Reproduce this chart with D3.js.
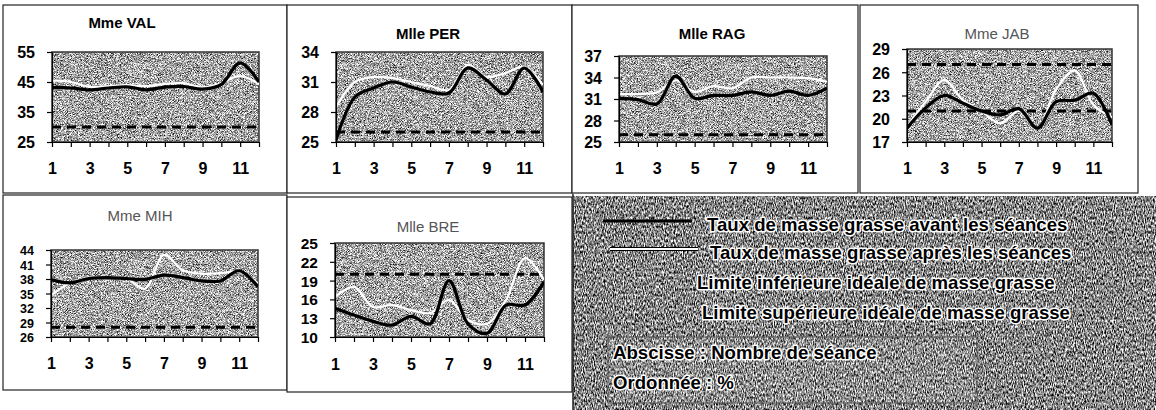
<!DOCTYPE html>
<html lang="fr">
<head>
    <meta charset="UTF-8">
    <title>Taux de masse grasse</title>
    <script src="https://d3js.org/d3.v7.min.js"></script>
    <style>
        body { margin: 0; background: #fff; }
        svg { display: block; font-family: Arial, "Liberation Sans", sans-serif; }
        .axis path, .axis line { stroke: #000; stroke-width: 1.2px; }
        .axis text { font-size: 16px; font-weight: 700; fill: #000; font-family: Arial, "Liberation Sans", sans-serif; }
        .legend-text { font-size: 18.6px; font-weight: 700; fill: #000; stroke: #fff; stroke-width: 3px; paint-order: stroke; stroke-linejoin: round; }
    </style>
</head>
<body>
    <svg id="chart" width="1156" height="410"></svg>

    <script>
        // Séances 1 à 12
        const seances = [1, 2, 3, 4, 5, 6, 7, 8, 9, 10, 11, 12];

        // avant / après les séances (%)
        const valAvant = [43.2, 43, 42.4, 43, 43.4, 42.4, 43.3, 43.5, 42.6, 44.2, 51.4, 45];
        const valApres = [45.5, 45, 43.4, 43.6, 44, 43.6, 44.4, 44.6, 43.2, 44.6, 47, 44.2];
        const perAvant = [25.2, 29.5, 30.4, 31.0, 30.5, 30.0, 29.9, 32.4, 31.2, 29.8, 32.4, 30.0];
        const perApres = [28.5, 31.0, 31.5, 31.4, 31.0, 30.6, 30.2, 32.7, 31.5, 31.9, 32.5, 30.7];
        const ragAvant = [31.1, 30.9, 30.3, 34.2, 31.1, 31.5, 31.5, 32.0, 31.5, 32.1, 31.5, 32.5];
        const ragApres = [31.7, 31.7, 31.9, 33.6, 32.0, 32.8, 32.5, 34.0, 34.0, 34.0, 33.9, 33.4];
        const jabAvant = [18.8, 21.4, 23.0, 22.0, 21.0, 20.5, 21.3, 18.8, 22.2, 22.4, 23.3, 19.2];
        const jabApres = [19.0, 22.2, 25.0, 22.4, 21.0, 19.4, 21.0, 18.8, 23.8, 26.2, 21.8, 20.2];
        const mihAvant = [37.9, 37.2, 38.1, 38.3, 38.1, 37.9, 38.8, 38.3, 37.6, 37.6, 39.7, 36.4];
        const mihApres = [34.6, 37.1, 38.3, 38.3, 38.1, 36.0, 43.0, 39.8, 39.1, 39.2, 39.5, 37.1];
        const breAvant = [14.6, 13.5, 12.5, 11.9, 13.3, 12.1, 19.0, 12.1, 10.6, 15.1, 15.1, 18.8];
        const breApres = [16.4, 18.0, 14.8, 15.1, 14.3, 13.8, 15.9, 12.7, 12.1, 15.9, 22.6, 19.1];

        // limites idéales (lignes pointillées)
        const valLimites = [30];
        const perLimites = [26];
        const ragLimites = [26];
        const jabLimites = [21, 27];
        const mihLimites = [28];
        const breLimites = [20];

        // graduations des ordonnées
        const valTicks = [25, 35, 45, 55];
        const perTicks = [25, 28, 31, 34];
        const ragTicks = [25, 28, 31, 34, 37];
        const jabTicks = [17, 20, 23, 26, 29];
        const mihTicks = [26, 29, 32, 35, 38, 41, 44];
        const breTicks = [10, 13, 16, 19, 22, 25];

        const legendLabels = [
            "Taux de masse grasse avant les séances",
            "Taux de masse grasse après les séances",
            "Limite inférieure idéale de masse grasse",
            "Limite supérieure idéale de masse grasse"
        ];

        const panels = [
            { name: "Mme VAL", bold: true, avant: valAvant, apres: valApres, limites: valLimites, ticks: valTicks,
              frame: [3, 5, 284, 188], title: [122, 28], plot: [52, 259, 52, 142], xLab: 175, yFont: 16 },
            { name: "Mlle PER", bold: true, avant: perAvant, apres: perApres, limites: perLimites, ticks: perTicks,
              frame: [287, 5, 285, 188], title: [428, 39], plot: [336, 543, 52, 142], xLab: 175, yFont: 16 },
            { name: "Mlle RAG", bold: true, avant: ragAvant, apres: ragApres, limites: ragLimites, ticks: ragTicks,
              frame: [572, 5, 286, 188], title: [712, 39], plot: [619, 827, 56, 142], xLab: 175, yFont: 16 },
            { name: "Mme JAB", bold: false, avant: jabAvant, apres: jabApres, limites: jabLimites, ticks: jabTicks,
              frame: [860, 5, 278, 188], title: [997, 39], plot: [907, 1112, 49, 142], xLab: 175, yFont: 16 },
            { name: "Mme MIH", bold: false, avant: mihAvant, apres: mihApres, limites: mihLimites, ticks: mihTicks,
              frame: [3, 195, 284, 195], title: [140, 221], plot: [51, 258, 250, 337], xLab: 370, yFont: 12.5 },
            { name: "Mlle BRE", bold: false, avant: breAvant, apres: breApres, limites: breLimites, ticks: breTicks,
              frame: [287, 197, 285, 195], title: [428, 232], plot: [335, 544, 243, 337], xLab: 371, yFont: 15.5 }
        ];

        const svg = d3.select("#chart");
        const defs = svg.append("defs");

        // grain du fond (trame grise)
        function grain(id, freq, k, b) {
            const f = defs.append("filter").attr("id", id)
                .attr("x", 0).attr("y", 0).attr("width", 1).attr("height", 1)
                .attr("color-interpolation-filters", "sRGB");
            f.append("feTurbulence").attr("type", "fractalNoise")
                .attr("baseFrequency", freq).attr("numOctaves", 2).attr("seed", 7).attr("result", "n");
            f.append("feColorMatrix").attr("in", "n").attr("type", "matrix")
                .attr("values", `${k} 0 0 0 ${b}  ${k} 0 0 0 ${b}  ${k} 0 0 0 ${b}  0 0 0 0 1`)
                .attr("result", "g");
            f.append("feComposite").attr("in", "g").attr("in2", "SourceGraphic").attr("operator", "in");
        }
        grain("grainPlot", "1.3", 2.0, -0.35);
        grain("grainLegend", "0.9 0.35", 2.0, -0.48);

        panels.forEach((p, i) => {
            const [x0, x1, y0, y1] = p.plot;
            const g = svg.append("g");

            g.append("rect")
                .attr("x", p.frame[0]).attr("y", p.frame[1])
                .attr("width", p.frame[2]).attr("height", p.frame[3])
                .attr("fill", "#fff").attr("stroke", "#222").attr("stroke-width", 1.2);

            g.append("text")
                .attr("x", p.title[0]).attr("y", p.title[1])
                .attr("text-anchor", "middle")
                .attr("font-size", 15)
                .attr("font-weight", p.bold ? "bold" : "normal")
                .attr("fill", p.bold ? "#000" : "#555")
                .text(p.name);

            const x = d3.scalePoint().domain(seances).range([x0, x1]);
            const y = d3.scaleLinear().domain(d3.extent(p.ticks)).range([y1, y0]);

            g.append("rect")
                .attr("x", x0).attr("y", y0).attr("width", x1 - x0).attr("height", y1 - y0)
                .attr("fill", "#aaa").attr("filter", "url(#grainPlot)");
            g.append("rect")
                .attr("x", x0).attr("y", y0).attr("width", x1 - x0).attr("height", y1 - y0)
                .attr("fill", "none").attr("stroke", "#333").attr("stroke-width", 1.5);

            defs.append("clipPath").attr("id", "clip" + i)
                .append("rect").attr("x", x0).attr("y", y0 - 1).attr("width", x1 - x0).attr("height", y1 - y0 + 2);
            const inner = g.append("g").attr("clip-path", `url(#clip${i})`);

            inner.selectAll(".limite").data(p.limites).join("line")
                .attr("x1", x0).attr("x2", x1)
                .attr("y1", d => y(d)).attr("y2", d => y(d))
                .attr("stroke", "#000").attr("stroke-width", 3)
                .attr("stroke-dasharray", "9,6");

            const line = d3.line()
                .x((d, j) => x(seances[j]))
                .y(d => y(d))
                .curve(d3.curveCatmullRom.alpha(0.5));

            inner.append("path").datum(p.apres)
                .attr("d", line).attr("fill", "none")
                .attr("stroke", "#fff").attr("stroke-width", 2.2);
            inner.append("path").datum(p.avant)
                .attr("d", line).attr("fill", "none")
                .attr("stroke", "#000").attr("stroke-width", 3.2);

            g.append("g").attr("class", "axis")
                .attr("transform", `translate(0,${y1})`)
                .call(d3.axisBottom(x).tickSize(5).tickSizeOuter(0).tickPadding(p.xLab - y1 - 17)
                    .tickFormat(d => d % 2 === 1 ? d : ""));

            g.append("g").attr("class", "axis")
                .attr("transform", `translate(${x0},0)`)
                .call(d3.axisLeft(y).tickValues(p.ticks).tickSize(5).tickSizeOuter(0).tickPadding(12))
                .selectAll("text").attr("dy", "0.36em").style("font-size", p.yFont + "px");
        });

        // légende
        const lg = svg.append("g");
        lg.append("rect")
            .attr("x", 573).attr("y", 196).attr("width", 583).attr("height", 214)
            .attr("fill", "#888").attr("filter", "url(#grainLegend)");
        lg.append("line").attr("x1", 573).attr("x2", 573).attr("y1", 194).attr("y2", 410)
            .attr("stroke", "#222").attr("stroke-width", 1.5);

        lg.append("line").attr("x1", 603).attr("x2", 692).attr("y1", 221).attr("y2", 221)
            .attr("stroke", "#000").attr("stroke-width", 3);
        lg.append("line").attr("x1", 610).attr("x2", 698).attr("y1", 249).attr("y2", 249)
            .attr("stroke", "#000").attr("stroke-width", 4);
        lg.append("line").attr("x1", 610).attr("x2", 698).attr("y1", 249).attr("y2", 249)
            .attr("stroke", "#fff").attr("stroke-width", 2);

        const legendPos = [[707, 231], [710, 259], [697, 289], [702, 319]];
        lg.selectAll(".lt").data(legendLabels).join("text")
            .attr("class", "legend-text")
            .attr("x", (d, i) => legendPos[i][0]).attr("y", (d, i) => legendPos[i][1])
            .text(d => d);

        lg.append("rect")
            .attr("x", 608).attr("y", 337).attr("width", 369).attr("height", 66)
            .attr("fill", "#fff").attr("fill-opacity", 0.08)
            .attr("stroke", "#555").attr("stroke-width", 1);
        lg.append("text").attr("class", "legend-text").attr("x", 613).attr("y", 359)
            .text("Abscisse : Nombre de séance");
        lg.append("text").attr("class", "legend-text").attr("x", 613).attr("y", 389)
            .text("Ordonnée : %");
    </script>
</body>
</html>
